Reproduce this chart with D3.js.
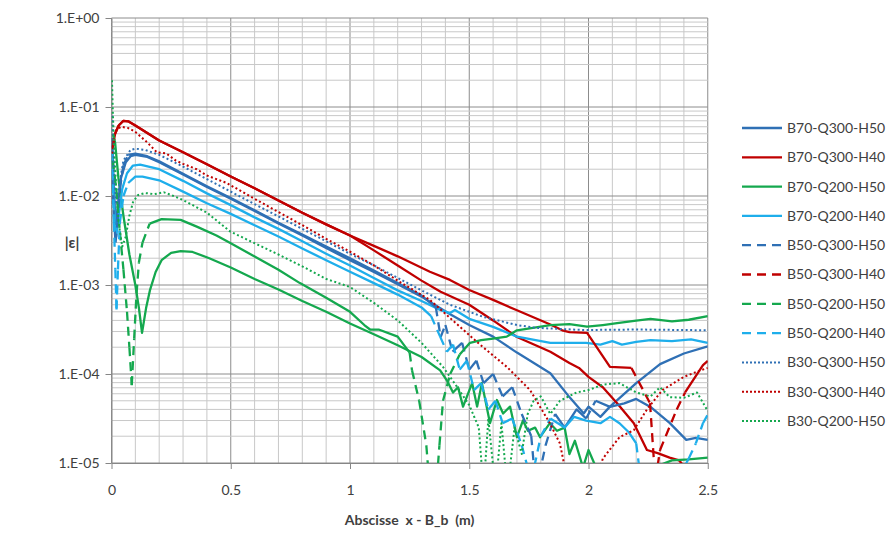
<!DOCTYPE html>
<html>
<head>
<meta charset="utf-8">
<script src="https://cdn.jsdelivr.net/npm/d3@7"></script>
<style>
body { margin: 0; background: #fff; }
text { font-family: Lato, "Open Sans", sans-serif; fill: #404040; }
</style>
</head>
<body>
<svg id="chart" width="888" height="535"></svg>
<script>
const width = 888, height = 535;
const plotLeft = 111.5, plotRight = 707.75, plotTop = 18, plotBottom = 463;

// series names, in legend order
const seriesNames = ['B70-Q300-H50', 'B70-Q300-H40', 'B70-Q200-H50', 'B70-Q200-H40',
    'B50-Q300-H50', 'B50-Q300-H40', 'B50-Q200-H50', 'B50-Q200-H40',
    'B30-Q300-H50', 'B30-Q300-H40', 'B30-Q200-H50'];

const xTicks = [0, 0.5, 1, 1.5, 2, 2.5];
const yTicks = [1e-5, 1e-4, 1e-3, 1e-2, 1e-1, 1];

// [x (m), |eps|]
const b70q300h50 = [[0.003,4.5e-2],[0.01,1.2e-2],[0.018,4.5e-3],[0.027,8e-3],[0.04,1.6e-2],[0.06,2.4e-2],[0.08,2.8e-2],[0.1,2.9e-2],[0.15,2.75e-2],[0.2,2.4e-2],[0.3,1.74e-2],[0.4,1.26e-2],[0.5,9.3e-3],[0.6,6.8e-3],[0.7,4.9e-3],[0.8,3.6e-3],[0.9,2.6e-3],[1.0,1.9e-3],[1.1,1.4e-3],[1.2,1.02e-3],[1.3,7.4e-4],[1.42,4.7e-4],[1.5,3.55e-4],[1.6,2.63e-4],[1.7,1.74e-4],[1.84,1.02e-4],[1.92,5.5e-5],[1.98,3.6e-5],[2.0,4.3e-5],[2.05,3.3e-5],[2.09,4.3e-5],[2.2,7.9e-5],[2.3,1.29e-4],[2.4,1.7e-4],[2.5,2.04e-4]];
const b70q300h40 = [[0.005,3.5e-2],[0.015,5e-2],[0.03,6.2e-2],[0.05,7e-2],[0.07,6.9e-2],[0.1,6.2e-2],[0.2,4.2e-2],[0.3,3.1e-2],[0.4,2.27e-2],[0.5,1.66e-2],[0.6,1.22e-2],[0.7,8.9e-3],[0.8,6.5e-3],[0.9,4.8e-3],[1.0,3.6e-3],[1.1,2.45e-3],[1.2,1.66e-3],[1.3,1.12e-3],[1.38,8.4e-4],[1.5,6e-4],[1.6,4e-4],[1.7,2.6e-4],[1.84,1.78e-4],[1.92,1.33e-4],[1.96,1.17e-4],[2.0,9.3e-5],[2.06,7.1e-5],[2.12,4.7e-5],[2.19,2.8e-5],[2.245,1.4e-5],[2.29,1.29e-5],[2.34,1.15e-5],[2.38,1.07e-5],[2.42,8e-6]];
const b70q200h50 = [[0.005,5e-2],[0.015,4e-2],[0.03,1.5e-2],[0.05,6e-3],[0.075,2.2e-3],[0.1,1e-3],[0.115,5.5e-4],[0.128,2.9e-4],[0.145,5.5e-4],[0.161,8.7e-4],[0.185,1.4e-3],[0.21,1.9e-3],[0.25,2.3e-3],[0.29,2.4e-3],[0.34,2.35e-3],[0.41,2.0e-3],[0.5,1.57e-3],[0.6,1.17e-3],[0.7,8.9e-4],[0.8,6.6e-4],[0.9,5.0e-4],[1.0,3.7e-4],[1.1,2.8e-4],[1.2,2.1e-4],[1.3,1.55e-4],[1.378,1.1e-4],[1.406,8.5e-5],[1.432,6.2e-5],[1.453,7.1e-5],[1.474,4.3e-5],[1.512,7.9e-5],[1.533,4.3e-5],[1.553,7.9e-5],[1.587,2.8e-5],[1.616,5.1e-5],[1.642,3.6e-5],[1.671,4.3e-5],[1.7,1.95e-5],[1.725,3.0e-5],[1.746,2.3e-5],[1.776,2.5e-5],[1.797,1.95e-5],[1.838,2.8e-5],[1.868,2.3e-5],[1.9,2.5e-5],[1.92,1.26e-5],[1.943,1.78e-5],[1.977,8.9e-6],[2.0,1.4e-5],[2.04,7.9e-6],[2.1,5e-6],[2.2,6.3e-6],[2.3,9.5e-6],[2.35,1.07e-5],[2.42,1.1e-5],[2.5,1.15e-5]];
const b70q200h40 = [[0.003,3e-2],[0.01,8e-3],[0.02,3.5e-3],[0.03,6e-3],[0.045,1.2e-2],[0.065,1.8e-2],[0.09,2.2e-2],[0.12,2.25e-2],[0.2,2.0e-2],[0.3,1.48e-2],[0.4,1.07e-2],[0.5,7.9e-3],[0.6,5.75e-3],[0.7,4.27e-3],[0.8,3.1e-3],[0.9,2.24e-3],[1.0,1.66e-3],[1.1,1.2e-3],[1.2,8.7e-4],[1.3,6.6e-4],[1.378,5.25e-4],[1.419,4.84e-4],[1.44,5.25e-4],[1.5,4.17e-4],[1.6,3.39e-4],[1.7,2.63e-4],[1.84,2.24e-4],[1.99,2.24e-4],[2.05,2.14e-4],[2.1,2.34e-4],[2.14,2.14e-4],[2.2,2.29e-4],[2.26,2.4e-4],[2.35,2.34e-4],[2.43,2.45e-4],[2.5,2.24e-4]];
const b50q300h50 = [[0.004,1.5e-2],[0.01,6e-3],[0.017,3e-3],[0.025,5e-3],[0.035,1.2e-2],[0.05,2.2e-2],[0.07,2.9e-2],[0.1,3e-2],[0.15,2.8e-2],[0.2,2.45e-2],[0.3,1.78e-2],[0.4,1.29e-2],[0.5,9.5e-3],[0.6,6.9e-3],[0.7,5e-3],[0.8,3.7e-3],[0.9,2.7e-3],[1.0,2e-3],[1.1,1.45e-3],[1.2,1.05e-3],[1.3,7.6e-4],[1.36,5.6e-4],[1.38,2.6e-4],[1.4,3.55e-4],[1.43,1.78e-4],[1.47,2.24e-4],[1.5,1.12e-4],[1.53,1.41e-4],[1.56,7.9e-5],[1.6,1e-4],[1.64,5.6e-5],[1.68,7.1e-5],[1.72,3.55e-5],[1.76,2e-5],[1.78,5e-6],[1.82,1.58e-5],[1.86,3.55e-5],[1.9,2.5e-5],[1.95,4e-5],[1.99,3.16e-5],[2.03,5e-5],[2.09,4.27e-5],[2.15,4.68e-5],[2.2,5.25e-5],[2.26,4.27e-5],[2.34,2.82e-5],[2.41,1.82e-5],[2.45,1.91e-5],[2.5,1.82e-5]];
const b50q300h40 = [[0.005,3.5e-2],[0.015,5e-2],[0.03,6.2e-2],[0.05,7e-2],[0.07,6.9e-2],[0.1,6.2e-2],[0.2,4.2e-2],[0.3,3.1e-2],[0.4,2.27e-2],[0.5,1.66e-2],[0.6,1.22e-2],[0.7,8.9e-3],[0.8,6.5e-3],[0.9,4.8e-3],[1.0,3.6e-3],[1.1,2.75e-3],[1.2,2.1e-3],[1.335,1.41e-3],[1.419,1.14e-3],[1.5,8.8e-4],[1.6,6.8e-4],[1.7,5.2e-4],[1.84,3.6e-4],[1.89,3.1e-4],[1.92,2.96e-4],[1.994,2.9e-4],[2.09,1.2e-4],[2.18,1.17e-4],[2.258,4.7e-5],[2.28,6.3e-6],[2.3,1.4e-5],[2.37,4e-5],[2.405,6.2e-5],[2.48,1.26e-4],[2.5,1.4e-4]];
const b50q200h50 = [[0.005,2.5e-2],[0.02,1.2e-2],[0.035,4e-3],[0.05,1.5e-3],[0.065,5e-4],[0.075,2e-4],[0.085,7.5e-5],[0.095,2.5e-4],[0.105,8e-4],[0.115,1.8e-3],[0.13,3e-3],[0.16,4.9e-3],[0.21,5.5e-3],[0.29,5.4e-3],[0.36,4.5e-3],[0.44,3.6e-3],[0.5,2.95e-3],[0.6,2.09e-3],[0.7,1.48e-3],[0.79,1.05e-3],[0.9,7.2e-4],[1.0,5e-4],[1.06,3.55e-4],[1.084,3.16e-4],[1.12,3.16e-4],[1.2,2.63e-4],[1.25,1.74e-4],[1.26,1.1e-4],[1.29,5e-5],[1.32,1.58e-5],[1.335,5e-6],[1.355,3e-6],[1.375,1.58e-5],[1.39,5e-5],[1.42,1e-4],[1.46,1.66e-4],[1.503,2.24e-4],[1.55,2.4e-4],[1.6,2.5e-4],[1.657,2.63e-4],[1.7,3.1e-4],[1.84,3.55e-4],[1.92,3.63e-4],[1.994,3.4e-4],[2.06,3.55e-4],[2.12,3.72e-4],[2.2,3.98e-4],[2.26,4.17e-4],[2.35,3.9e-4],[2.42,4.07e-4],[2.5,4.47e-4]];
const b50q200h40 = [[0.004,2e-2],[0.01,5e-3],[0.016,1.5e-3],[0.021,5.3e-4],[0.027,1.5e-3],[0.035,5e-3],[0.05,1e-2],[0.07,1.4e-2],[0.1,1.65e-2],[0.13,1.65e-2],[0.2,1.5e-2],[0.3,1.12e-2],[0.4,8.3e-3],[0.5,6.3e-3],[0.6,4.7e-3],[0.7,3.5e-3],[0.8,2.57e-3],[0.9,1.9e-3],[1.0,1.41e-3],[1.1,1.05e-3],[1.2,7.8e-4],[1.3,5.6e-4],[1.34,4.47e-4],[1.378,2.63e-4],[1.406,1.78e-4],[1.432,2.14e-4],[1.46,1.12e-4],[1.49,1.41e-4],[1.52,6.6e-5],[1.55,7.9e-5],[1.58,4e-5],[1.61,5e-5],[1.64,2.8e-5],[1.68,3.16e-5],[1.72,1.58e-5],[1.76,6.3e-6],[1.8,2e-5],[1.84,3.16e-5],[1.9,2.5e-5],[1.94,3.3e-5],[1.99,3e-5],[2.05,2.8e-5],[2.09,3.3e-5],[2.13,2.8e-5],[2.17,2.2e-5],[2.2,1.66e-5],[2.22,6.3e-6],[2.35,5e-6],[2.42,1.12e-5],[2.45,1.66e-5],[2.48,2.8e-5],[2.5,3.5e-5]];
const b30q300h50 = [[0.004,8e-2],[0.01,2e-2],[0.02,8e-3],[0.03,1.2e-2],[0.05,2.5e-2],[0.08,3.3e-2],[0.1,3.4e-2],[0.14,3.3e-2],[0.2,2.9e-2],[0.3,2.14e-2],[0.4,1.55e-2],[0.5,1.12e-2],[0.6,8.1e-3],[0.7,5.9e-3],[0.8,4.27e-3],[0.9,3.1e-3],[1.0,2.24e-3],[1.1,1.66e-3],[1.2,1.2e-3],[1.3,8.7e-4],[1.419,6e-4],[1.56,4.37e-4],[1.7,3.55e-4],[1.78,3.3e-4],[1.98,3.12e-4],[2.2,3.16e-4],[2.5,3.1e-4]];
const b30q300h40 = [[0.004,3e-2],[0.01,4.5e-2],[0.02,5.5e-2],[0.04,6e-2],[0.07,5.8e-2],[0.098,5.3e-2],[0.15,4e-2],[0.19,3.1e-2],[0.23,3e-2],[0.27,2.5e-2],[0.3,2.3e-2],[0.357,2e-2],[0.4,1.7e-2],[0.483,1.4e-2],[0.6,9.3e-3],[0.7,6.6e-3],[0.8,4.7e-3],[0.9,3.3e-3],[1.0,2.37e-3],[1.1,1.66e-3],[1.2,1.12e-3],[1.335,6.8e-4],[1.419,4.27e-4],[1.545,2.14e-4],[1.658,1.2e-4],[1.755,6.6e-5],[1.838,2.8e-5],[1.88,1.66e-5],[1.92,5e-6],[2.02,5e-6],[2.06,1.12e-5],[2.13,1.95e-5],[2.19,2.34e-5],[2.245,4e-5],[2.31,6.6e-5],[2.4,9.3e-5],[2.47,1.1e-4],[2.5,1.17e-4]];
const b30q200h50 = [[0.002,2e-1],[0.006,8e-2],[0.012,3e-2],[0.02,1.2e-2],[0.03,5e-3],[0.045,2.7e-3],[0.06,3.5e-3],[0.075,6e-3],[0.09,8.5e-3],[0.11,1.02e-2],[0.14,1.08e-2],[0.18,1.05e-2],[0.22,1.1e-2],[0.26,1e-2],[0.3,9e-3],[0.4,6.5e-3],[0.497,4e-3],[0.6,2.95e-3],[0.7,2.2e-3],[0.8,1.62e-3],[0.9,1.17e-3],[1.0,9.5e-4],[1.1,6.3e-4],[1.2,4e-4],[1.3,2.24e-4],[1.39,1.2e-4],[1.45,7.1e-5],[1.5,4.47e-5],[1.54,2.5e-5],[1.56,5e-6],[1.58,3.16e-5],[1.61,5e-6],[1.635,2.8e-5],[1.66,5e-6],[1.69,2.5e-5],[1.72,1.26e-5],[1.745,3.55e-5],[1.77,5e-5],[1.8,5.6e-5],[1.84,3.55e-5],[1.88,5e-5],[1.95,6.2e-5],[2.0,6.6e-5],[2.06,7.6e-5],[2.13,7.9e-5],[2.2,6.2e-5],[2.26,5.6e-5],[2.3,7.1e-5],[2.34,5.5e-5],[2.4,5.4e-5],[2.455,6.2e-5],[2.49,4.27e-5],[2.5,3.8e-5]];

const seriesData = [b70q300h50, b70q300h40, b70q200h50, b70q200h40,
    b50q300h50, b50q300h40, b50q200h50, b50q200h40,
    b30q300h50, b30q300h40, b30q200h50];

const darkBlue = '#2F70B5', red = '#C00000', green = '#14A84E', lightBlue = '#1EAEEB';
const seriesColors = [darkBlue, red, green, lightBlue, darkBlue, red, green, lightBlue, darkBlue, red, green];
const seriesStyles = ['solid', 'solid', 'solid', 'solid', 'dash', 'dash', 'dash', 'dash', 'dot', 'dot', 'dot'];

const svg = d3.select('#chart');

const x = d3.scaleLinear().domain([0, 2.5]).range([plotLeft, plotRight]);
const y = d3.scaleLog().domain([1e-5, 1]).range([plotBottom, plotTop]);

// grid
const grid = svg.append('g').attr('class', 'grid');
const minorX = x.ticks(25);
const minorY = y.ticks();
grid.selectAll('.vminor').data(minorX).enter().append('line')
    .attr('x1', d => x(d)).attr('x2', d => x(d))
    .attr('y1', plotTop).attr('y2', plotBottom)
    .attr('stroke', d => xTicks.some(t => Math.abs(t - d) < 1e-9) ? '#8c8c8c' : '#c8c8c8')
    .attr('stroke-width', 1);
grid.selectAll('.hminor').data(minorY).enter().append('line')
    .attr('x1', plotLeft).attr('x2', plotRight)
    .attr('y1', d => y(d)).attr('y2', d => y(d))
    .attr('stroke', d => yTicks.some(t => Math.abs(t - d) / t < 1e-6) ? '#8c8c8c' : '#c8c8c8')
    .attr('stroke-width', 1);

// axes
function expLabel(d) {
    const e = Math.round(Math.log10(d));
    return '1.E' + (e < 0 ? '-' : '+') + String(Math.abs(e)).padStart(2, '0');
}
const yAxis = svg.append('g')
    .attr('transform', `translate(${plotLeft},0)`)
    .call(d3.axisLeft(y).tickValues(yTicks).tickFormat(expLabel).tickSize(6).tickSizeOuter(0).tickPadding(6));
const xAxis = svg.append('g')
    .attr('transform', `translate(0,${plotBottom})`)
    .call(d3.axisBottom(x).tickValues(xTicks).tickFormat(d3.format('')).tickSize(6).tickSizeOuter(0).tickPadding(16));
[yAxis, xAxis].forEach(a => {
    a.select('.domain').attr('stroke', '#868686');
    a.selectAll('.tick line').attr('stroke', '#868686');
    a.selectAll('.tick text').attr('font-family', 'Lato, sans-serif').attr('font-size', 14).attr('fill', '#404040');
});

// series
svg.append('clipPath').attr('id', 'plotClip')
    .append('rect')
    .attr('x', plotLeft).attr('y', plotTop)
    .attr('width', plotRight - plotLeft).attr('height', plotBottom - plotTop);
const lines = svg.append('g').attr('clip-path', 'url(#plotClip)');
const pixLine = d3.line();

// dashed lines: the dash restarts on every segment, so shallow stretches read as solid
function drawDashed(g, pts, color) {
    let run = [pts[0]];
    const flush = () => {
        if (run.length > 1) {
            g.append('path').attr('d', pixLine(run))
                .attr('fill', 'none').attr('stroke', color)
                .attr('stroke-width', 2.3).attr('stroke-linejoin', 'round');
        }
    };
    for (let i = 1; i < pts.length; i++) {
        const dx = pts[i][0] - pts[i - 1][0], dy = pts[i][1] - pts[i - 1][1];
        if (Math.abs(dy) > 1.6 * Math.abs(dx)) {
            flush();
            g.append('path').attr('d', pixLine([pts[i - 1], pts[i]]))
                .attr('fill', 'none').attr('stroke', color)
                .attr('stroke-width', 2.3).attr('stroke-dasharray', '9,6');
            run = [pts[i]];
        } else {
            run.push(pts[i]);
        }
    }
    flush();
}

seriesData.forEach((data, i) => {
    const pts = data.map(d => [x(d[0]), y(d[1])]);
    const color = seriesColors[i];
    if (seriesStyles[i] === 'dash') {
        drawDashed(lines, pts, color);
        return;
    }
    const p = lines.append('path').attr('d', pixLine(pts))
        .attr('fill', 'none').attr('stroke', color)
        .attr('stroke-linejoin', 'round');
    if (seriesStyles[i] === 'dot') {
        p.attr('stroke-width', 2).attr('stroke-dasharray', '2,2.5');
    } else {
        p.attr('stroke-width', 2.3);
    }
});

// legend
const legend = svg.append('g').attr('class', 'legend');
seriesNames.forEach((name, i) => {
    const ly = 128 + i * 29.3;
    const l = legend.append('line')
        .attr('x1', 742).attr('x2', 782).attr('y1', ly).attr('y2', ly)
        .attr('stroke', seriesColors[i]);
    if (seriesStyles[i] === 'dash') l.attr('stroke-width', 2.3).attr('stroke-dasharray', '9,6');
    else if (seriesStyles[i] === 'dot') l.attr('stroke-width', 2).attr('stroke-dasharray', '2,2');
    else l.attr('stroke-width', 2.3);
    legend.append('text')
        .attr('x', 787).attr('y', ly)
        .attr('dy', '0.35em')
        .attr('font-size', 14)
        .text(name);
});

// titles
svg.append('text')
    .attr('x', (plotLeft + plotRight) / 2).attr('y', 525)
    .attr('text-anchor', 'middle')
    .attr('font-size', 14).attr('font-weight', 'bold')
    .style('white-space', 'pre')
    .text('Abscisse  x - B_b  (m)');
svg.append('text')
    .attr('x', 72).attr('y', 248)
    .attr('text-anchor', 'middle')
    .attr('font-size', 15).attr('font-weight', 'bold')
    .text('|ε|');
</script>
</body>
</html>
